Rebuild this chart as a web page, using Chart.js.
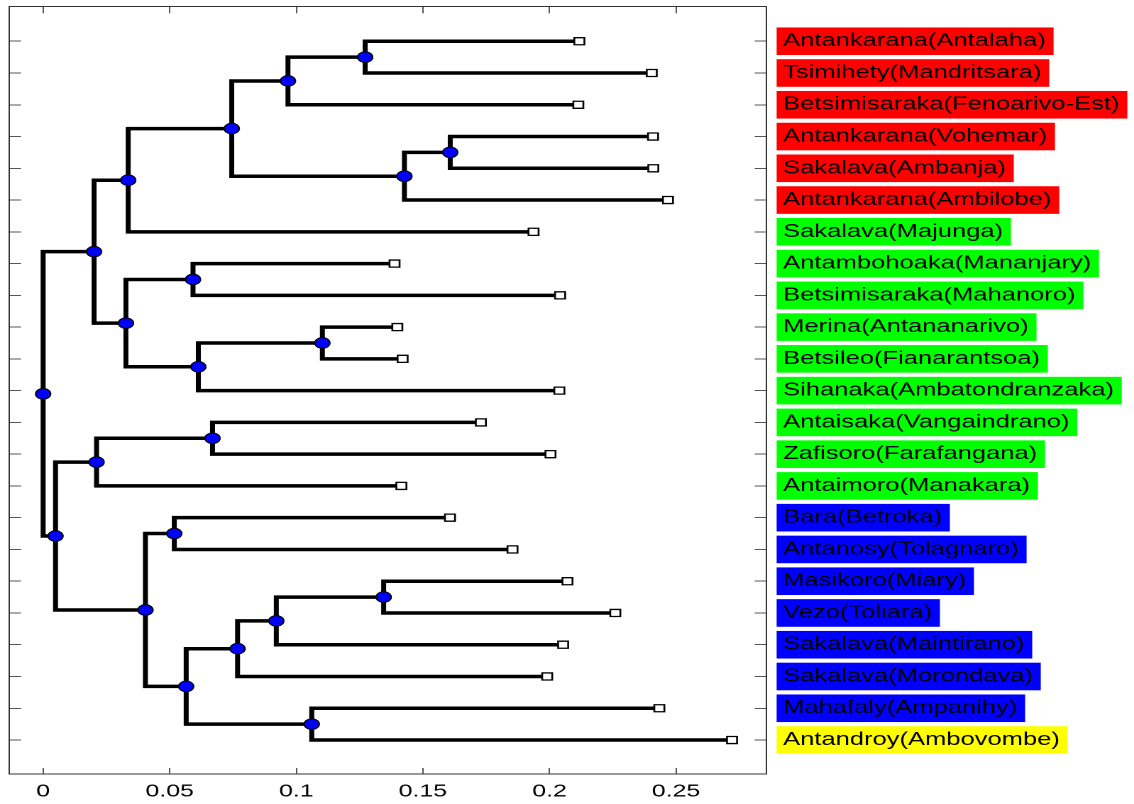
<!DOCTYPE html>
<html>
<head>
<meta charset="utf-8">
<script src="https://cdn.jsdelivr.net/npm/chart.js@4.4.1/dist/chart.umd.min.js"></script>
<style>
  html, body { margin: 0; padding: 0; background: #fff; overflow: hidden; }
  #wrap { width: 1134px; height: 804px; overflow: hidden; }
  /* the original figure is stretched sideways, so the canvas is too */
  #tree { display: block; transform-origin: 0 0; transform: scaleX(1.4193); }
</style>
</head>
<body>
<div id="wrap"><canvas id="tree" width="799" height="804"></canvas></div>
<script>
// leaves, top to bottom
const leafLabels = [
  "Antankarana(Antalaha)", "Tsimihety(Mandritsara)", "Betsimisaraka(Fenoarivo-Est)",
  "Antankarana(Vohemar)", "Sakalava(Ambanja)", "Antankarana(Ambilobe)",
  "Sakalava(Majunga)", "Antambohoaka(Mananjary)", "Betsimisaraka(Mahanoro)",
  "Merina(Antananarivo)", "Betsileo(Fianarantsoa)", "Sihanaka(Ambatondranzaka)",
  "Antaisaka(Vangaindrano)", "Zafisoro(Farafangana)", "Antaimoro(Manakara)",
  "Bara(Betroka)", "Antanosy(Tolagnaro)", "Masikoro(Miary)", "Vezo(Toliara)",
  "Sakalava(Maintirano)", "Sakalava(Morondava)", "Mahafaly(Ampanihy)", "Antandroy(Ambovombe)"
];
const leafGroup = [0, 0, 0, 0, 0, 0, 1, 1, 1, 1, 1, 1, 1, 1, 1, 2, 2, 2, 2, 2, 2, 2, 3];
const leafDistance = [
  0.2118, 0.2404, 0.2114, 0.2409, 0.2410, 0.2468, 0.1937, 0.1388, 0.2042, 0.1399, 0.1420, 0.2039,
  0.1729, 0.2004, 0.1415, 0.1607, 0.1854, 0.2071, 0.2260, 0.2054, 0.1991, 0.2434, 0.2721
];

// joins: children ids (0-22 leaves, 23+ earlier joins) and distance of the join
const mergeLeft  = [0, 23, 3, 25, 24, 27, 7, 9, 30, 29, 28, 12, 34, 15, 17, 37, 38, 21, 39, 36, 35, 33];
const mergeRight = [1, 2, 4, 5, 26, 6, 8, 10, 11, 31, 32, 13, 14, 16, 18, 19, 20, 22, 40, 41, 42, 43];
const mergeDistance = [
  0.1272, 0.0967, 0.1608, 0.1427, 0.0745, 0.0336, 0.0592, 0.1103, 0.0613, 0.0327, 0.0201,
  0.0669, 0.0211, 0.0518, 0.1345, 0.0921, 0.0768, 0.1061, 0.0565, 0.0404, 0.0049, 0
];

const xTickValues = [0, 0.05, 0.1, 0.15, 0.2, 0.25];
const xTickLabels = ["0", "0.05", "0.1", "0.15", "0.2", "0.25"];

const groupColors = ["#ff0000", "#00ff00", "#0000ff", "#ffff00"];
const font = "'Liberation Sans', Arial, Helvetica, sans-serif";

// node positions: leaves sit on rows 1..n, a join sits halfway between its children
const nodeX = leafDistance.slice();
const nodeY = leafLabels.map((_, i) => i + 1);
mergeLeft.forEach((l, k) => {
  nodeX.push(mergeDistance[k]);
  nodeY.push((nodeY[l] + nodeY[mergeRight[k]]) / 2);
});

const branches = mergeLeft.map((l, k) => {
  const r = mergeRight[k];
  const n = leafLabels.length + k;
  return {
    data: [
      { x: nodeX[l], y: nodeY[l] }, { x: nodeX[n], y: nodeY[l] },
      { x: nodeX[n], y: nodeY[r] }, { x: nodeX[r], y: nodeY[r] }
    ],
    showLine: true,
    borderColor: "#000",
    borderWidth: 3.5,
    pointRadius: 0,
    order: 2,
    xAxisID: "x",
    yAxisID: "y"
  };
});

const joins = {
  data: mergeDistance.map((d, k) => ({ x: nodeX[leafLabels.length + k], y: nodeY[leafLabels.length + k] })),
  pointStyle: "circle",
  pointRadius: 5.3,
  pointBackgroundColor: "#0000ff",
  pointBorderColor: "#000",
  pointBorderWidth: 1,
  order: 0,
  xAxisID: "x",
  yAxisID: "y"
};

const leaves = {
  data: leafDistance.map((d, i) => ({ x: d, y: nodeY[i] })),
  pointStyle: "rect",
  pointRadius: 5,
  pointBackgroundColor: "#fff",
  pointBorderColor: "#000",
  pointBorderWidth: 1.3,
  order: 1,
  xAxisID: "x",
  yAxisID: "y"
};

const xMin = -0.0135, xMax = 0.2858;
const yMin = -0.1, yMax = 24.07;
const setXTicks = s => { s.ticks = xTickValues.map(v => ({ value: v })); };
const setYTicks = s => { s.ticks = nodeY.slice(0, leafLabels.length).map(v => ({ value: v })); };
const fixWidth = w => s => { s.width = w; s.paddingTop = 0; s.paddingBottom = 0; };
const fixHeight = h => s => { s.height = h; s.paddingLeft = 0; s.paddingRight = 0; };
const frame = { display: true, color: "#333", width: 1 };

new Chart(document.getElementById("tree"), {
  type: "scatter",
  data: { datasets: [joins, leaves].concat(branches) },
  options: {
    responsive: false,
    devicePixelRatio: 2,
    animation: false,
    events: [],
    layout: { padding: 0 },
    plugins: { legend: { display: false }, tooltip: { enabled: false } },
    scales: {
      x: {
        type: "linear", position: "bottom", min: xMin, max: xMax,
        afterBuildTicks: setXTicks,
        afterFit: fixHeight(30),
        ticks: {
          callback: (v, i) => xTickLabels[i],
          font: { family: font, size: 17.5 }, color: "#000",
          padding: 13, maxRotation: 0, autoSkip: false
        },
        grid: { drawOnChartArea: false, tickLength: -6, color: "#555" },
        border: frame
      },
      xTop: {
        type: "linear", axis: "x", position: "top", min: xMin, max: xMax,
        afterBuildTicks: setXTicks,
        afterFit: fixHeight(5.5),
        ticks: { display: false },
        grid: { drawOnChartArea: false, tickLength: -7, color: "#555" },
        border: frame
      },
      y: {
        type: "linear", position: "left", min: yMin, max: yMax, reverse: true,
        afterBuildTicks: setYTicks,
        afterFit: fixWidth(6),
        ticks: { display: false },
        grid: { drawOnChartArea: false, tickLength: -8.5, color: "#555" },
        border: frame
      },
      yRight: {
        type: "linear", axis: "y", position: "right", min: yMin, max: yMax, reverse: true,
        afterBuildTicks: setYTicks,
        afterFit: fixWidth(258.8),
        ticks: {
          callback: (v, i) => leafLabels[i],
          font: { family: font, size: 18 }, color: "#000",
          padding: 20, autoSkip: false,
          showLabelBackdrop: true,
          backdropColor: c => groupColors[leafGroup[c.index]],
          backdropPadding: { left: 4.5, right: 5.5, top: 3, bottom: 3 }
        },
        grid: { drawOnChartArea: false, tickLength: -8.5, color: "#555" },
        border: frame
      }
    }
  }
});
</script>
</body>
</html>
